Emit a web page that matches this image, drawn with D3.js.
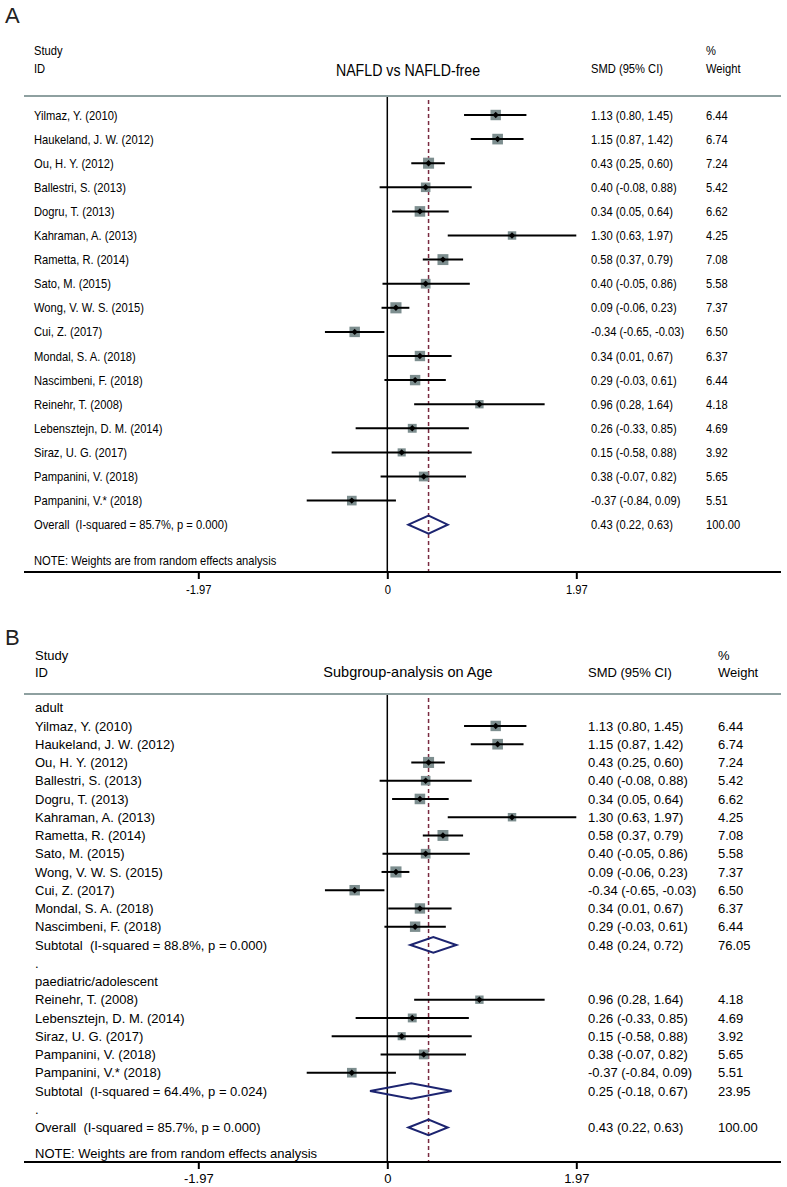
<!DOCTYPE html>
<html><head><meta charset="utf-8">
<script src="https://cdn.jsdelivr.net/npm/d3@7"></script>
<style>
body{margin:0;background:#fff}
text{font-family:"Liberation Sans",Arial,sans-serif;fill:#000;white-space:pre}
</style>
</head><body>
<svg id="c" width="787" height="1187"></svg>
<script>
// ---------- data ----------
const studies = ["Yilmaz, Y. (2010)","Haukeland, J. W. (2012)","Ou, H. Y. (2012)","Ballestri, S. (2013)","Dogru, T. (2013)","Kahraman, A. (2013)","Rametta, R. (2014)","Sato, M. (2015)","Wong, V. W. S. (2015)","Cui, Z. (2017)","Mondal, S. A. (2018)","Nascimbeni, F. (2018)","Reinehr, T. (2008)","Lebensztejn, D. M. (2014)","Siraz, U. G. (2017)","Pampanini, V. (2018)","Pampanini, V.* (2018)"];
const smd    = [1.13,1.15,0.43,0.40,0.34,1.30,0.58,0.40,0.09,-0.34,0.34,0.29,0.96,0.26,0.15,0.38,-0.37];
const ciLow  = [0.80,0.87,0.25,-0.08,0.05,0.63,0.37,-0.05,-0.06,-0.65,0.01,-0.03,0.28,-0.33,-0.58,-0.07,-0.84];
const ciHigh = [1.45,1.42,0.60,0.88,0.64,1.97,0.79,0.86,0.23,-0.03,0.67,0.61,1.64,0.85,0.88,0.82,0.09];
const weights = [6.44,6.74,7.24,5.42,6.62,4.25,7.08,5.58,7.37,6.50,6.37,6.44,4.18,4.69,3.92,5.65,5.51];
const ageGroup = ["adult","adult","adult","adult","adult","adult","adult","adult","adult","adult","adult","adult","paediatric/adolescent","paediatric/adolescent","paediatric/adolescent","paediatric/adolescent","paediatric/adolescent"];
const subgroupNames = ["adult","paediatric/adolescent"];
const subgroupLabels = ["Subtotal  (I-squared = 88.8%, p = 0.000)","Subtotal  (I-squared = 64.4%, p = 0.024)"];
const subgroupEst = [0.48,0.25];
const subgroupLow = [0.24,-0.18];
const subgroupHigh = [0.72,0.67];
const subgroupWeight = [76.05,23.95];
const overallLabel = "Overall  (I-squared = 85.7%, p = 0.000)";
const overallEst = 0.43, overallLow = 0.22, overallHigh = 0.63, overallWeight = 100.00;
const tickValues = [-1.97, 0, 1.97];
const tickLabels = ["-1.97","0","1.97"];

// ---------- helpers ----------
const loc = d3.formatLocale({decimal:".",thousands:",",grouping:[3],currency:["",""],minus:"-"});
const f2 = loc.format(".2f");
const ciText = (e,l,h) => `${f2(e)} (${f2(l)}, ${f2(h)})`;

const svg = d3.select("#c");
const x = d3.scaleLinear().domain([-1.97,1.97]).range([198.3,576.3]);
const BOX = "#7d8e8f", LINEC = "#8ea0a0", DASH = "#7a2a40", NAVY = "#1c2470";

function panel(cfg){
  const g = svg.append("g");
  const sx = cfg.sx;
  function txt(str, xx, yy, opts={}){
    const size = opts.size || cfg.fs;
    const t = g.append("text")
      .attr("xml:space","preserve")
      .attr("transform",`translate(${xx},${yy}) scale(${sx},1)`)
      .attr("dy","0.35em")
      .style("font-size",size+"px")
      .text(str);
    if(opts.anchor) t.attr("text-anchor",opts.anchor);
    return t;
  }
  // panel letter
  g.append("text").attr("x",5).attr("y",cfg.letterY).style("font-size","22px")
    .style("fill","#222").text(cfg.letter);
  // header
  txt("Study", cfg.textX, cfg.h1);
  txt("ID", cfg.textX, cfg.h2);
  txt(cfg.title, 408, cfg.titleY, {size:cfg.titleFs, anchor:"middle"});
  txt("SMD (95% CI)", cfg.ciX, cfg.h2);
  txt("%", cfg.wX, cfg.h1);
  txt("Weight", cfg.wX, cfg.h2);
  g.append("line").attr("x1",24).attr("x2",781).attr("y1",cfg.hLine).attr("y2",cfg.hLine)
    .attr("stroke",LINEC).attr("stroke-width",2);

  const y = d3.scaleLinear().domain([0,1]).range([cfg.y0, cfg.y0+cfg.step]);

  // zero line and overall dashed line
  g.append("line").attr("x1",x(0)).attr("x2",x(0)).attr("y1",cfg.hLine+1).attr("y2",cfg.axisY)
    .attr("stroke","#000").attr("stroke-width",1.5);
  g.append("line").attr("x1",x(overallEst)).attr("x2",x(overallEst)).attr("y1",cfg.hLine+4).attr("y2",cfg.axisY)
    .attr("stroke",DASH).attr("stroke-width",1.5).attr("stroke-dasharray","4,3");

  cfg.rows.forEach(r=>{
    const yy = y(r.i);
    txt(r.text, cfg.textX, yy);
    if(r.type==="study"){
      const k = r.k, s = 4.1*Math.sqrt(weights[k]);
      g.append("rect").attr("x",x(smd[k])-s/2).attr("y",yy-s/2).attr("width",s).attr("height",s).attr("fill",BOX);
      g.append("line").attr("x1",x(ciLow[k])).attr("x2",x(ciHigh[k])).attr("y1",yy).attr("y2",yy)
        .attr("stroke","#000").attr("stroke-width",2);
      g.append("path").attr("d",d3.symbol(d3.symbolDiamond2,26)()).attr("transform",`translate(${x(smd[k])},${yy})`).attr("fill","#000");
      txt(ciText(smd[k],ciLow[k],ciHigh[k]), cfg.ciX, yy);
      txt(f2(weights[k]), cfg.wX, yy);
    } else if(r.type==="pooled"){
      const h = cfg.dh;
      const pts = [[x(r.lo),yy],[x(r.est),yy-h],[x(r.hi),yy],[x(r.est),yy+h]];
      g.append("path").attr("d","M"+pts.map(p=>p.join(",")).join("L")+"Z")
        .attr("fill","none").attr("stroke",NAVY).attr("stroke-width",2);
      txt(ciText(r.est,r.lo,r.hi), cfg.ciX, yy);
      txt(f2(r.w), cfg.wX, yy);
    }
  });
  txt("NOTE: Weights are from random effects analysis", cfg.textX, cfg.noteY);

  // axis
  const axis = d3.axisBottom(x).tickValues(tickValues).tickFormat((d,i)=>tickLabels[i]).tickSize(7).tickSizeOuter(0);
  const ag = g.append("g").attr("transform",`translate(0,${cfg.axisY})`).call(axis);
  ag.select(".domain").remove();
  ag.append("line").attr("x1",24).attr("x2",781).attr("stroke","#000").attr("stroke-width",2);
  ag.selectAll(".tick line").attr("stroke","#000").attr("stroke-width",2);
  ag.selectAll(".tick text").attr("y",null).attr("dy","0.35em")
    .attr("transform",`translate(0,${cfg.tickLabY-cfg.axisY}) scale(${sx},1)`)
    .style("font-size",cfg.fs+"px").style("font-family",'"Liberation Sans",Arial,sans-serif').attr("fill","#000");
}

// Panel A rows
const rowsA = studies.map((s,k)=>({type:"study",i:k,k:k,text:s}));
rowsA.push({type:"pooled",i:studies.length,text:overallLabel,est:overallEst,lo:overallLow,hi:overallHigh,w:overallWeight});
panel({letter:"A",letterY:23,sx:0.86,fs:13,textX:34,h1:50,h2:68,title:"NAFLD vs NAFLD-free",titleY:70,titleFs:16.5,
  ciX:591,wX:706,hLine:96,y0:115,step:24.1,dh:9,noteY:560.7,axisY:572,tickLabY:589,rows:rowsA});

// Panel B rows
const rowsB = [];
let idx = 0;
subgroupNames.forEach((gname,gi)=>{
  rowsB.push({type:"label",i:idx++,text:gname});
  studies.forEach((s,k)=>{ if(ageGroup[k]===gname) rowsB.push({type:"study",i:idx++,k:k,text:s}); });
  rowsB.push({type:"pooled",i:idx++,text:subgroupLabels[gi],est:subgroupEst[gi],lo:subgroupLow[gi],hi:subgroupHigh[gi],w:subgroupWeight[gi]});
  rowsB.push({type:"label",i:idx++,text:"."});
});
rowsB.push({type:"pooled",i:idx++,text:overallLabel,est:overallEst,lo:overallLow,hi:overallHigh,w:overallWeight});
panel({letter:"B",letterY:645,sx:1,fs:13,textX:35,h1:655,h2:672,title:"Subgroup-analysis on Age",titleY:672,titleFs:14.5,
  ciX:588,wX:718,hLine:694,y0:707.7,step:18.25,dh:7.8,noteY:1153,axisY:1162,tickLabY:1178,rows:rowsB});
</script>
</body></html>
